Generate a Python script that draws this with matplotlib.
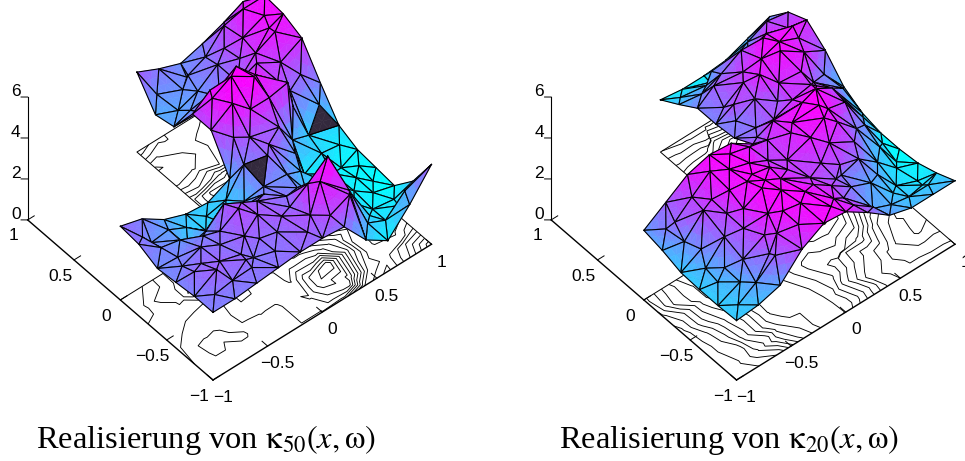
import numpy as np
import matplotlib
matplotlib.use('Agg')
import matplotlib.pyplot as plt
import matplotlib.tri as mtri
from mpl_toolkits.mplot3d import proj3d
from mpl_toolkits.mplot3d.art3d import Poly3DCollection

plt.rcParams['font.family'] = ['Liberation Sans', 'DejaVu Sans']
plt.rcParams['mathtext.fontset'] = 'stix'

grid_x = [-1.0, -0.8, -0.6, -0.4, -0.2, 0.0, 0.2, 0.4, 0.6, 0.8, 1.0]
grid_y = [-1.0, -0.8, -0.6, -0.4, -0.2, 0.0, 0.2, 0.4, 0.6, 0.8, 1.0]
N = np.nan

# heights, rows go from y=-1 up to y=1
kappa50 = [
    [3.3, 3.3, 3.4, 3.5, 3.6, 3.6, 3.5, 2.2, 1.5, 2.6, 3.9],
    [3.3, 3.8, 3.7, 3.4, 3.6, 4.0, 4.9, 4.2, 1.8, 1.7, 2.3],
    [3.2, 3.6, 3.5, 3.8, 3.9, 3.6, 4.0, 3.6, 1.9, 1.4, 1.3],
    [3.1, 3.2, 3.3, 3.9, 4.0, 3.3, 3.2, 2.3, 1.6, 1.5, 1.4],
    [3.5, 3.0, 2.3, 2.0, 2.0, 2.4, 3.6, 2.4, 1.7, 1.5, 1.5],
    [3.6, 3.3, 2.6, 2.2, 2.1, 2.6, 3.9, 3.8, 2.6, 2.0, 1.9],
    [N, N, N, N, N, 4.2, 5.1, 5.3, 4.6, 3.6, 3.2],
    [N, N, N, N, N, 4.2, 5.0, 5.2, 4.4, 4.3, 4.6],
    [N, N, N, N, N, 2.8, 2.9, 3.3, 4.0, 4.9, 5.0],
    [N, N, N, N, N, 2.6, 3.0, 3.2, 4.0, 4.9, 5.1],
    [N, N, N, N, N, 3.9, 3.4, 3.0, 3.3, 3.7, 4.0],
]
# heights at the cell centres between those rows and columns
kappa50_mid = [
    [3.45, 3.5, 3.5, 3.5, 3.8, 4.1, 4.4, 2.3, 1.8, 2.6],
    [3.6, 3.7, 3.55, 3.65, 3.9, 4.6, 5.3, 3.0, 1.6, 1.6],
    [3.3, 3.5, 3.6, 4.1, 3.8, 3.5, 3.5, 2.6, 1.6, 1.4],
    [3.2, 2.9, 2.9, 3.2, 3.0, 3.2, 3.0, 2.0, 1.5, 1.45],
    [3.35, 2.8, 2.2, 2.05, 2.2, 3.3, 3.9, 2.8, 1.9, 1.6],
    [N, N, N, N, N, 4.0, 4.7, 4.6, 3.4, 2.6],
    [N, N, N, N, N, 4.9, 5.3, 5.0, 4.2, 3.7],
    [N, N, N, N, N, 3.7, 4.2, 3.7, 4.5, 4.9],
    [N, N, N, N, N, 2.7, 3.0, 3.6, 4.5, 5.1],
    [N, N, N, N, N, 3.0, 3.1, 3.4, 4.2, 4.7],
]
kappa20 = [
    [2.9, 3.0, 3.3, 4.4, 5.0, 4.9, 4.2, 3.4, 3.1, 3.1, 3.1],
    [2.85, 3.2, 4.0, 4.6, 5.0, 4.8, 4.1, 3.3, 2.9, 2.7, 2.7],
    [2.85, 3.4, 4.3, 4.9, 5.1, 4.7, 4.1, 3.8, 3.3, 2.6, 2.4],
    [2.9, 3.6, 4.4, 5.0, 5.1, 4.5, 4.4, 4.6, 4.2, 3.0, 2.3],
    [3.2, 4.0, 4.6, 5.0, 5.0, 4.4, 4.7, 5.0, 4.9, 3.6, 2.3],
    [3.4, 4.1, 4.8, 5.1, 5.0, 4.3, 4.7, 5.0, 5.1, 4.3, 2.5],
    [N, N, N, N, N, 3.8, 3.9, 4.1, 4.5, 4.0, 3.0],
    [N, N, N, N, N, 3.7, 4.3, 4.8, 5.0, 4.8, 4.0],
    [N, N, N, N, N, 3.7, 4.1, 4.5, 5.0, 5.0, 4.7],
    [N, N, N, N, N, 3.1, 3.2, 3.4, 3.8, 4.3, 4.3],
    [N, N, N, N, N, 2.55, 2.4, 2.4, 2.5, 2.9, 3.3],
]
kappa20_mid = [
    [2.95, 3.4, 4.1, 4.8, 5.05, 4.6, 3.8, 3.2, 2.95, 2.9],
    [3.1, 3.8, 4.5, 5.0, 5.1, 4.5, 3.8, 3.3, 2.75, 2.5],
    [3.2, 4.0, 4.7, 5.1, 4.9, 4.4, 4.3, 3.9, 3.0, 2.35],
    [3.5, 4.35, 4.9, 5.15, 4.85, 4.5, 4.8, 4.7, 3.7, 2.55],
    [3.75, 4.4, 4.95, 5.1, 4.8, 4.5, 4.95, 5.15, 4.4, 2.95],
    [N, N, N, N, N, 4.0, 4.2, 4.5, 4.4, 3.4],
    [N, N, N, N, N, 3.8, 4.2, 4.6, 4.65, 3.7],
    [N, N, N, N, N, 3.9, 4.4, 4.85, 5.05, 4.6],
    [N, N, N, N, N, 3.5, 3.85, 4.3, 4.7, 4.5],
    [N, N, N, N, N, 2.85, 2.85, 3.0, 3.4, 3.7],
]

titles = [r'Realisierung von $\mathrm{\kappa}_{50}(x,\mathrm{\omega})$', r'Realisierung von $\mathrm{\kappa}_{20}(x,\mathrm{\omega})$']
x_ticks = [-1, -0.5, 0, 0.5, 1]
y_ticks = [-1, -0.5, 0, 0.5, 1]
z_ticks = [0, 2, 4, 6]
tick_names = {-1: '\u22121', -0.5: '\u22120.5', 0: '0', 0.5: '0.5', 1: '1', 2: '2', 4: '4', 6: '6'}
dark_spots = [[(0.1, -0.1), (0.85, 0.08)], []]

# small shifts so that the mesh is not a regular grid
mesh_shift = [0.0, 0.05, -0.035, 0.03, -0.06, 0.02, -0.025]
elev, azim = 47.1, -130.3
box = (2, 2, 1.26)


def build_mesh(heights, mid_heights):
    z = np.array(heights, dtype=float)
    zm = np.array(mid_heights, dtype=float)
    xs, ys, zs = [], [], []
    for j, yv in enumerate(grid_y):
        for i, xv in enumerate(grid_x):
            if np.isnan(z[j, i]):
                continue
            on_edge = abs(xv) == 1 or abs(yv) == 1 or (xv == 0 and yv >= 0) or (yv == 0 and xv <= 0)
            if on_edge:
                xs.append(xv)
                ys.append(yv)
            else:
                xs.append(xv + mesh_shift[(3 * i + 2 * j) % 7])
                ys.append(yv + mesh_shift[(i + 4 * j) % 7])
            zs.append(z[j, i])
    for j in range(10):
        for i in range(10):
            if np.isnan(zm[j, i]):
                continue
            xs.append(grid_x[i] + 0.1 + mesh_shift[(2 * i + 5 * j) % 7] * 0.7)
            ys.append(grid_y[j] + 0.1 + mesh_shift[(5 * i + j) % 7] * 0.7)
            zs.append(zm[j, i])
    xs, ys, zs = np.array(xs), np.array(ys), np.array(zs)
    triang = mtri.Triangulation(xs, ys)
    cx = xs[triang.triangles].mean(axis=1)
    cy = ys[triang.triangles].mean(axis=1)
    triang.set_mask((cx < 0) & (cy > 0))
    return triang, zs


def sub_triangles(p, n=3):
    polys = []
    for a in range(n):
        for b in range(n - a):
            w = [(a, b), (a + 1, b), (a, b + 1)]
            polys.append([(p[0] * (n - u - v) + p[1] * u + p[2] * v) / n for u, v in w])
            if a + b < n - 1:
                w = [(a + 1, b), (a + 1, b + 1), (a, b + 1)]
                polys.append([(p[0] * (n - u - v) + p[1] * u + p[2] * v) / n for u, v in w])
    return polys


def draw_surface(ax, triang, zs, dark):
    norm = plt.Normalize(zs.min(), zs.max())
    cmap = plt.get_cmap('cool')
    finder = triang.get_trifinder()
    dark_ids = [int(finder(*spot)) for spot in dark]
    visible = np.where(~triang.mask)[0]
    pts = np.column_stack([triang.x, triang.y, zs])
    ea, za = np.radians(elev), np.radians(azim)
    view = np.array([np.cos(ea) * np.cos(za) * box[0] / 2, np.cos(ea) * np.sin(za) * box[1] / 2, np.sin(ea) * box[2] / 6])
    depth = pts[triang.triangles[visible]].mean(axis=1) @ view
    for rank, t in enumerate(visible[np.argsort(depth)]):
        p = pts[triang.triangles[t]]
        polys = sub_triangles(p)
        if t in dark_ids:
            cols = [(0.2, 0.16, 0.24, 1)] * len(polys)
        else:
            cols = [cmap(norm(np.mean(q, axis=0)[2])) for q in polys]
        coll = Poly3DCollection(polys, facecolors=cols, edgecolors=cols, linewidths=0.4)
        coll.set_zorder(10 + 2 * rank)
        ax.add_collection3d(coll)
        ring = np.vstack([p, p[0]])
        ax.plot(ring[:, 0], ring[:, 1], ring[:, 2], color='k', lw=0.8, zorder=11 + 2 * rank)


def draw_base(ax, triang, zs):
    levels = np.linspace(zs.min(), zs.max(), 13)[1:-1]
    ax.tricontour(triang, zs, levels=levels, zdir='z', offset=0, colors='k', linewidths=0.65, zorder=2)
    # outline of the L shaped domain and the axes
    ax.plot([-1, 0, 0, 1], [0, 0, 1, 1], [0, 0, 0, 0], color='k', lw=0.7, zorder=3)
    ax.plot([1, 1], [1, -1], [0, 0], color='k', lw=0.7, zorder=3)
    ax.plot([-1, 1], [-1, -1], [0, 0], color='k', lw=1.0, zorder=3)
    ax.plot([-1, -1], [-1, 1], [0, 0], color='k', lw=1.0, zorder=3)
    ax.plot([-1, -1], [1, 1], [0, 6], color='k', lw=0.8, zorder=3)
    labels = []
    for v in x_ticks:
        ax.plot([v, v], [-1, -1 + 0.06], [0, 0], color='k', lw=0.7, zorder=3)
        labels.append((v - 0.057, -1.175, 0, tick_names[v]))
    for v in y_ticks:
        ax.plot([-1, -1 + 0.06], [v, v], [0, 0], color='k', lw=0.7, zorder=3)
        labels.append((-1.173, v - 0.054, 0, tick_names[v]))
    for v in z_ticks:
        ax.plot([-1, -1 - 0.035], [1, 1 + 0.03], [v, v], color='k', lw=0.7, zorder=3)
        labels.append((-1.064, 1.053, v + 0.28, tick_names[v]))
    return labels


def screen(ax, x, y, z):
    xs, ys, _ = proj3d.proj_transform(x, y, z, ax.get_proj())
    return ax.transData.transform((xs, ys))


def place_axes(ax, fig, target_px, length_px):
    # scale and move the axes so the front corner lands where it does in the picture
    fw, fh = fig.get_size_inches() * fig.dpi
    a, b = screen(ax, -1, -1, 0), screen(ax, 1, -1, 0)
    ax.set_box_aspect(box, zoom=length_px / np.hypot(*(b - a)))
    a = screen(ax, -1, -1, 0)
    pos = ax.get_position()
    ax.set_position([pos.x0 + (target_px[0] - a[0]) / fw, pos.y0 + (fh - target_px[1] - a[1]) / fh, pos.width, pos.height])


fig = plt.figure(figsize=(9.65, 4.61), dpi=100)
fw, fh = fig.get_size_inches() * fig.dpi
corners = [(213, 380), (736.5, 380)]
title_x = [206, 729]
surfaces = [(kappa50, kappa50_mid), (kappa20, kappa20_mid)]
for k, (heights, mid_heights) in enumerate(surfaces):
    side = 461 / 965
    ax = fig.add_axes([0.02 + 0.5 * k, 0.0, side, 1.0], projection='3d', proj_type='ortho')
    ax.computed_zorder = False
    ax.view_init(elev=elev, azim=azim)
    ax.set_box_aspect(box)
    ax.set_axis_off()
    triang, zs = build_mesh(heights, mid_heights)
    labels = draw_base(ax, triang, zs)
    draw_surface(ax, triang, zs, dark_spots[k])
    ax.set_xlim(-1, 1, view_margin=0)
    ax.set_ylim(-1, 1, view_margin=0)
    ax.set_zlim(0, 6, view_margin=0)
    place_axes(ax, fig, corners[k], np.hypot(219, 135))
    for lx, ly, lz, name in labels:
        px, py = screen(ax, lx, ly, lz)
        fig.text(px / fw, py / fh, name, fontsize=12.5, ha='center', va='center')
    fig.text(title_x[k] / 965, 1 - 448 / 461, titles[k], family='Liberation Serif', fontsize=23.4, ha='center', va='baseline')

fig.savefig('out.png', dpi=100)
